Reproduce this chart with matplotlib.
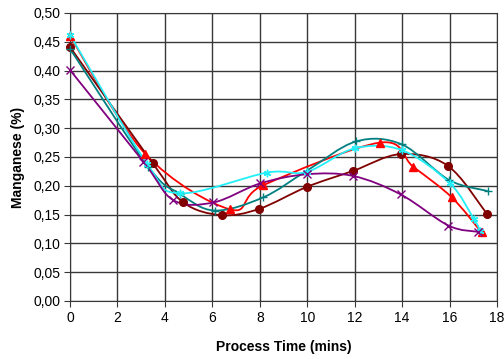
import numpy as np
import matplotlib
matplotlib.use("Agg")
import matplotlib.pyplot as plt
from matplotlib.path import Path
from matplotlib.patches import PathPatch
from matplotlib.ticker import FuncFormatter, MultipleLocator

plt.rcParams['font.family'] = ['Liberation Sans', 'DejaVu Sans']

# process time (mins) and manganese (%) for each run
red_t = [0, 3.16, 6.75, 8.15, 13.07, 14.47, 16.09, 17.35]
red_mn = [0.46, 0.256, 0.159, 0.201, 0.275, 0.233, 0.180, 0.119]

maroon_t = [0, 3.49, 4.78, 6.39, 7.98, 9.98, 11.94, 13.94, 15.92, 17.58]
maroon_mn = [0.441, 0.239, 0.171, 0.149, 0.160, 0.198, 0.226, 0.255, 0.235, 0.151]

teal_t = [0, 3.30, 4.64, 6.10, 8.15, 9.98, 12.06, 13.98, 15.98, 17.60]
teal_mn = [0.438, 0.233, 0.186, 0.157, 0.180, 0.226, 0.277, 0.272, 0.210, 0.191]

cyan_t = [0, 3.25, 4.64, 8.32, 9.98, 12.0, 13.98, 16.0, 17.03, 17.30]
cyan_mn = [0.462, 0.238, 0.187, 0.223, 0.224, 0.265, 0.262, 0.205, 0.142, 0.121]

purple_t = [0, 3.09, 4.36, 6.04, 8.01, 9.98, 11.94, 13.94, 15.95, 17.21]
purple_mn = [0.401, 0.242, 0.175, 0.171, 0.204, 0.220, 0.217, 0.185, 0.131, 0.120]

series = [
    (red_t, red_mn, '#FF0000', '^'),
    (maroon_t, maroon_mn, '#800000', 'o'),
    (teal_t, teal_mn, '#008080', '+'),
    (cyan_t, cyan_mn, '#22F0F8', (6, 2, 0)),
    (purple_t, purple_mn, '#800080', 'x'),
]


def smooth_path(ax, xs, ys):
    # excel style smoothed line: bezier through points in display space
    pts = ax.transData.transform(np.column_stack([xs, ys]))
    n = len(pts)
    verts = [pts[0]]
    codes = [Path.MOVETO]
    for i in range(n - 1):
        p0 = pts[i - 1] if i > 0 else pts[i]
        p1 = pts[i]
        p2 = pts[i + 1]
        p3 = pts[i + 2] if i + 2 < n else pts[i + 1]
        c1 = p1 + (p2 - p0) / 6.0
        c2 = p2 - (p3 - p1) / 6.0
        verts += [c1, c2, p2]
        codes += [Path.CURVE4] * 3
    return Path(verts, codes)


fig = plt.figure(figsize=(5.04, 3.59), dpi=100)
ax = fig.add_axes([0.1389, 0.1616, 0.8472, 0.8022])
ax.set_xlim(0, 18)
ax.set_ylim(0, 0.5)
ax.xaxis.set_major_locator(MultipleLocator(2))
ax.yaxis.set_major_locator(MultipleLocator(0.05))
ax.yaxis.set_major_formatter(FuncFormatter(lambda v, p: ("%.2f" % v).replace(".", ",")))
ax.grid(True, color='#383838', linewidth=1.0)
ax.set_axisbelow(True)
for s in ax.spines.values():
    s.set_color('#383838')
ax.tick_params(direction='out', length=4, color='#383838', labelsize=10, pad=3)

for xs, ys, col, mk in series:
    path = smooth_path(ax, xs, ys)
    ax.add_patch(PathPatch(path, transform=None, facecolor='none', edgecolor=col,
                           linewidth=1.3, zorder=3))
    ax.plot(xs, ys, linestyle='none', marker=mk, color=col, markersize=5.5,
            markeredgewidth=1.0, zorder=4, clip_on=False)

ax.set_xlabel('Process Time (mins)', fontsize=10, fontweight='bold', labelpad=11)
ax.set_ylabel('Manganese (%)', fontsize=10, fontweight='bold', labelpad=6)

fig.savefig('out.png', dpi=100)
